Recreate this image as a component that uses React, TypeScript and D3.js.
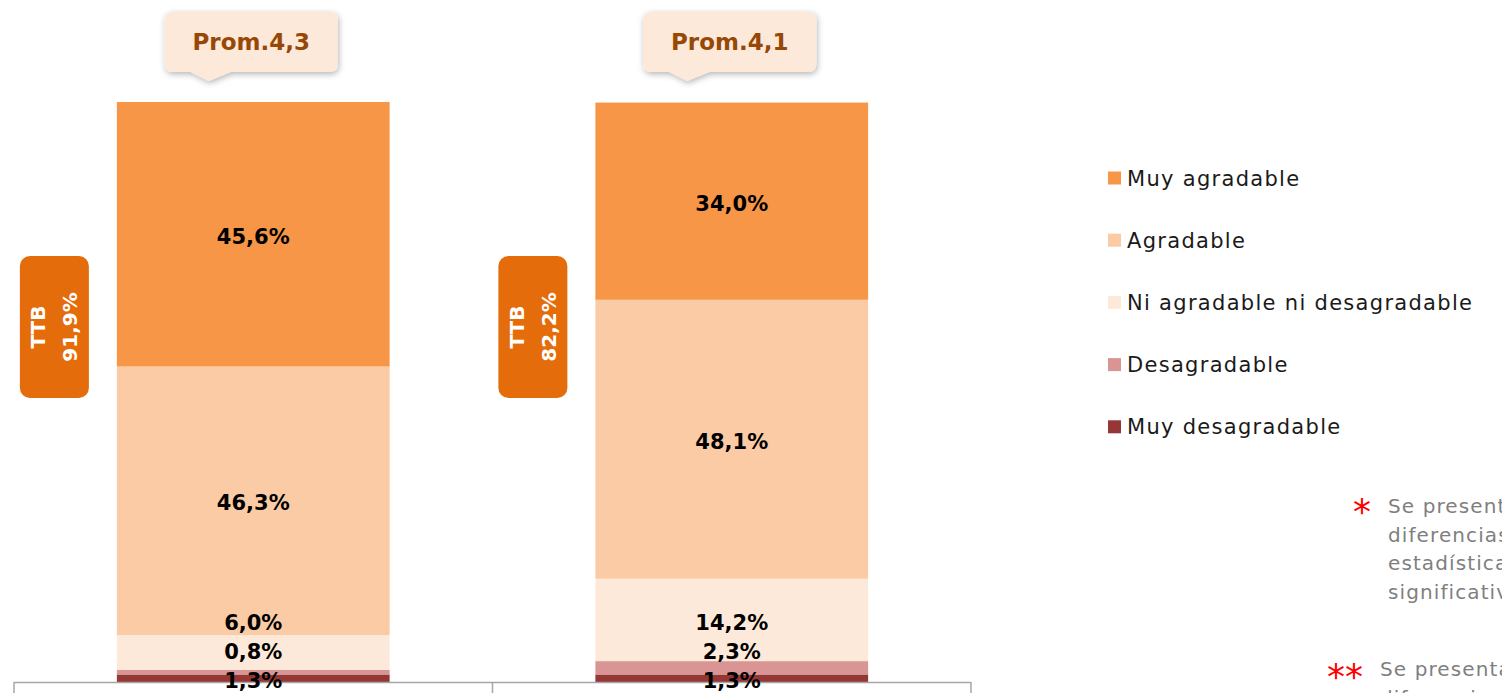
import React from "react";
import * as d3 from "d3";

const categories = ["A", "B"];
const seriesNames = ["Muy desagradable", "Desagradable", "Ni agradable ni desagradable", "Agradable", "Muy agradable"];
const muyDesagradable = [1.3, 1.3];
const desagradable = [0.8, 2.3];
const niNi = [6.0, 14.2];
const agradable = [46.3, 48.1];
const muyAgradable = [45.6, 34.0];
const promLabels = ["Prom.4,3", "Prom.4,1"];
const ttbLabels = ["91,9%", "82,2%"];
const legendOrder = ["Muy agradable", "Agradable", "Ni agradable ni desagradable", "Desagradable", "Muy desagradable"];
const colors: Record<string, string> = {
  "Muy agradable": "#F79646",
  "Agradable": "#FACBA5",
  "Ni agradable ni desagradable": "#FDE9DA",
  "Desagradable": "#D99594",
  "Muy desagradable": "#953734",
};
const note1 = ["Se presentan", "diferencias", "estadísticamente", "significativas"];
const note2 = ["Se presentan", "diferencias"];

const FONT = "'Century Gothic', 'DejaVu Sans', sans-serif";

export default function App() {
  const W = 1502, H = 693;
  const x = d3.scaleBand<string>().domain(categories).range([14, 971]).paddingInner(0.43).paddingOuter(0.215);
  const y = d3.scaleLinear().domain([0, 100]).range([682, 102]);
  const seriesVals = [muyDesagradable, desagradable, niNi, agradable, muyAgradable];
  const rows = categories.map((c, i) => {
    const r: any = { cat: c };
    seriesNames.forEach((s, k) => (r[s] = seriesVals[k][i]));
    return r;
  });
  const stack = d3.stack<any>().keys(seriesNames)(rows);

  const labelY: number[][] = categories.map((_, i) => {
    const ys: number[] = [];
    let prev = Infinity;
    stack.forEach((layer, k) => {
      const d = layer[i];
      let cy = (y(d[0]) + y(d[1])) / 2 + 2;
      if (k === 0) cy = Math.max(cy, y(0) - 2);
      cy = Math.min(cy, prev - 29);
      ys.push(cy);
      prev = cy;
    });
    return ys;
  });

  const bandStep = x.step();
  const calloutPath = (left: number, top: number, w: number, h: number, tip: number) => {
    const r = 8;
    const p = d3.path();
    p.moveTo(left + r, top);
    p.lineTo(left + w - r, top);
    p.quadraticCurveTo(left + w, top, left + w, top + r);
    p.lineTo(left + w, top + h - r);
    p.quadraticCurveTo(left + w, top + h, left + w - r, top + h);
    p.lineTo(tip + 22, top + h);
    p.lineTo(tip, top + h + 9);
    p.lineTo(tip - 18, top + h);
    p.lineTo(left + r, top + h);
    p.quadraticCurveTo(left, top + h, left, top + h - r);
    p.lineTo(left, top + r);
    p.quadraticCurveTo(left, top, left + r, top);
    p.closePath();
    return p.toString();
  };

  return (
    <svg width={W} height={H} style={{ position: "absolute", left: 0, top: 0, overflow: "hidden" }} fontFamily={FONT}>
      <defs>
        <filter id="sh" x="-20%" y="-30%" width="140%" height="160%">
          <feDropShadow dx="1" dy="2" stdDeviation="3" floodColor="#000" floodOpacity="0.3" />
        </filter>
      </defs>
      {stack.map((layer) =>
        layer.map((d, i) => (
          <rect key={layer.key + i} x={x(categories[i])!} width={x.bandwidth()} y={y(d[1])} height={y(d[0]) - y(d[1])} fill={colors[layer.key]} />
        ))
      )}
      <line x1={14} x2={971} y1={682.5} y2={682.5} stroke="#A6A6A6" strokeWidth={1.5} />
      {[0, 1, 2].map((k) => (
        <line key={k} x1={14 + k * bandStep} x2={14 + k * bandStep} y1={682} y2={693} stroke="#A6A6A6" strokeWidth={1.5} />
      ))}
      {stack.map((layer, k) =>
        layer.map((d, i) => (
          <text key={"l" + layer.key + i} x={x(categories[i])! + x.bandwidth() / 2} y={labelY[i][k]} dy="0.36em" textAnchor="middle" fontWeight="bold" fontSize={21} fill="#000">
            {(d[1] - d[0]).toFixed(1).replace(".", ",") + "%"}
          </text>
        ))
      )}
      {categories.map((c, i) => {
        const cx = x(c)! + x.bandwidth() / 2 - 2;
        const w = 173, h = 60, left = cx - w / 2, top = 12;
        return (
          <g key={"p" + c}>
            <path d={calloutPath(left, top, w, h, left + 44)} fill="#FDE9DA" filter="url(#sh)" />
            <text x={cx} y={top + h / 2} dy="0.36em" textAnchor="middle" fontWeight="bold" fontSize={23} fill="#974706">
              {promLabels[i]}
            </text>
          </g>
        );
      })}
      {categories.map((c, i) => {
        const left = x(c)! - 97, top = 256, w = 69, h = 142;
        const cy = top + h / 2;
        return (
          <g key={"t" + c}>
            <rect x={left} y={top} width={w} height={h} rx={10} fill="#E46C0A" />
            <text transform={`translate(${left + 18},${cy}) rotate(-90)`} textAnchor="middle" dy="0.36em" fontWeight="bold" fontSize={20} fill="#fff">TTB</text>
            <text transform={`translate(${left + 50},${cy}) rotate(-90)`} textAnchor="middle" dy="0.36em" fontWeight="bold" fontSize={20} fill="#fff">{ttbLabels[i]}</text>
          </g>
        );
      })}
      {legendOrder.map((s, k) => (
        <g key={"lg" + s} transform={`translate(1108,${178 + k * 62.2})`}>
          <rect x={0} y={-6.5} width={13} height={13} fill={colors[s]} />
          <text x={19} y={0} dy="0.36em" fontSize={21} letterSpacing={1.3} fill="#1A1A1A">{s}</text>
        </g>
      ))}
      <text x={1362} y={506} dy="0.5em" textAnchor="middle" fontSize={36} fill="#FF0000">*</text>
      {note1.map((t, k) => (
        <text key={"f" + k} x={1388} y={506 + k * 28.5} dy="0.36em" fontSize={20} letterSpacing={1.1} fill="#7F7F7F">{t}</text>
      ))}
      <text x={1345} y={671} dy="0.5em" textAnchor="middle" fontSize={36} fill="#FF0000">**</text>
      {note2.map((t, k) => (
        <text key={"g" + k} x={1380} y={669 + k * 28.5} dy="0.36em" fontSize={20} letterSpacing={1.1} fill="#7F7F7F">{t}</text>
      ))}
    </svg>
  );
}
